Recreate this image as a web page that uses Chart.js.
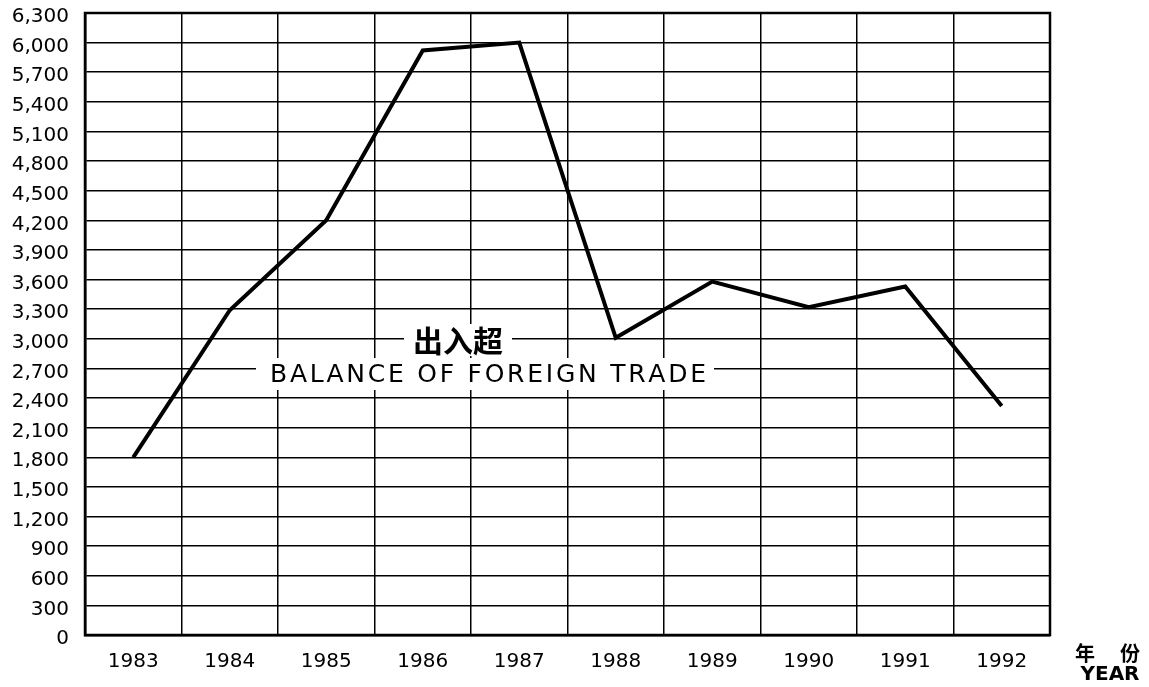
<!DOCTYPE html>
<html>
<head>
<meta charset="utf-8">
<script src="https://cdn.jsdelivr.net/npm/chart.js@4.4.1/dist/chart.umd.min.js"></script>
<style>
  html, body { margin: 0; padding: 0; background: #ffffff; }
  #wrap { width: 1149px; height: 687px; position: relative; }
</style>
</head>
<body>
<div id="wrap"><canvas id="c" width="1149" height="687"></canvas></div>
<script>
// ---- data ----
const years = ['1983', '1984', '1985', '1986', '1987', '1988', '1989', '1990', '1991', '1992'];
const balance = [1800, 3290, 4200, 5920, 6000, 3010, 3580, 3320, 3530, 2320];
const yMin = 0;
const yMax = 6300;
const yStep = 300;
const seriesTitleZh = '出入超';
const seriesTitleEn = 'BALANCE OF FOREIGN TRADE';
const xTitleZh = ['年', '份'];
const xTitleEn = 'YEAR';

const tickFont = { family: 'DejaVu Sans', size: 20 };

const decorPlugin = {
  id: 'decor',
  beforeDatasetsDraw(chart) {
    const ctx = chart.ctx;
    ctx.save();
    // Chinese label with white background
    ctx.font = 'bold 30px "Noto Sans CJK SC"';
    ctx.textAlign = 'center';
    ctx.textBaseline = 'middle';
    const zhX = 458, zhY = 341;
    const zw = ctx.measureText(seriesTitleZh).width;
    ctx.fillStyle = '#ffffff';
    ctx.fillRect(zhX - zw / 2 - 9, zhY - 17, zw + 18, 32);
    ctx.fillStyle = '#000000';
    ctx.fillText(seriesTitleZh, zhX, zhY);

    // English label, spread to target width
    ctx.font = '25px "DejaVu Sans"';
    ctx.textAlign = 'left';
    const left = 270, right = 706, ey = 375;
    const chars = seriesTitleEn.split('');
    const widths = chars.map(c => ctx.measureText(c).width);
    const total = widths.reduce((a, b) => a + b, 0);
    const gap = (right - left - total) / (chars.length - 1);
    ctx.fillStyle = '#ffffff';
    ctx.fillRect(left - 14, ey - 17, right - left + 22, 32);
    ctx.fillStyle = '#000000';
    let x = left;
    chars.forEach((c, i) => { ctx.fillText(c, x, ey); x += widths[i] + gap; });
    ctx.restore();
  },
  afterDraw(chart) {
    const ctx = chart.ctx;
    const a = chart.chartArea;
    ctx.save();
    ctx.strokeStyle = '#000000';
    ctx.lineWidth = 2.5;
    ctx.strokeRect(a.left, a.top, a.right - a.left, a.bottom - a.top);
    // x-axis unit label
    ctx.fillStyle = '#000000';
    ctx.textAlign = 'center';
    ctx.textBaseline = 'middle';
    ctx.font = 'bold 20px "Noto Sans CJK SC"';
    ctx.fillText(xTitleZh[0], 1085, 653);
    ctx.fillText(xTitleZh[1], 1130, 653);
    ctx.font = 'bold 20px "DejaVu Sans"';
    ctx.fillText(xTitleEn, 1110, 675);
    ctx.restore();
  }
};

new Chart(document.getElementById('c'), {
  type: 'line',
  data: {
    labels: years,
    datasets: [{
      data: balance,
      borderColor: '#000000',
      borderWidth: 4,
      pointRadius: 0,
      tension: 0,
      fill: false
    }]
  },
  options: {
    responsive: false,
    animation: false,
    devicePixelRatio: 1,
    layout: { padding: { top: 13, right: 99, left: 0, bottom: 0 } },
    plugins: { legend: { display: false }, tooltip: { enabled: false } },
    scales: {
      x: {
        type: 'category',
        offset: true,
        grid: { offset: true, color: '#000000', lineWidth: 1.5, drawTicks: false },
        border: { display: true, color: '#000000', width: 2.5 },
        ticks: { color: '#000000', font: tickFont, padding: 15, maxRotation: 0 },
        afterFit(s) { s.height = 52; s.paddingLeft = 0; s.paddingRight = 0; }
      },
      y: {
        min: yMin,
        max: yMax,
        grid: { color: '#000000', lineWidth: 1.5, drawTicks: false },
        border: { display: true, color: '#000000', width: 2.5 },
        ticks: {
          stepSize: yStep,
          color: '#000000',
          font: tickFont,
          padding: 16,
          labelOffset: 4,
          callback: v => v.toLocaleString('en-US')
        },
        afterFit(s) { s.width = 85; s.paddingTop = 0; s.paddingBottom = 0; }
      }
    }
  },
  plugins: [decorPlugin]
});
</script>
</body>
</html>
